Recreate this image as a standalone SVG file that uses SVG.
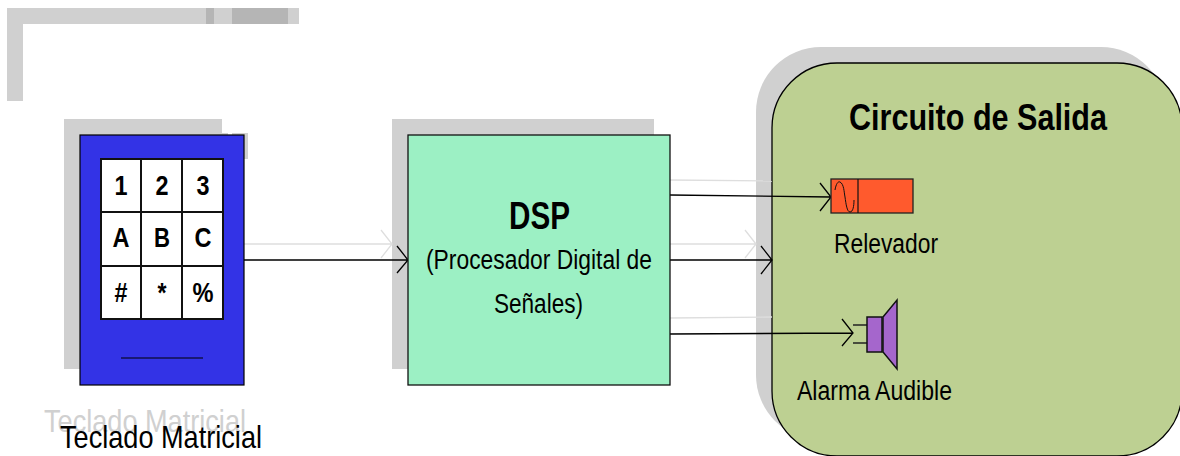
<svg xmlns="http://www.w3.org/2000/svg" width="1180" height="456" viewBox="0 0 1180 456">
<style>
text{font-family:"Liberation Sans",Arial,sans-serif;fill:#000}
.b{font-weight:bold}
.k{font-weight:bold;font-size:28px;text-anchor:middle}
.r{font-size:27px}
.t{font-size:32px}
.s{fill:#d0d0d0}
.e{fill:none;stroke:#000;stroke-width:1.3}
.g{fill:none;stroke:#dedede;stroke-width:1.3}
.o{stroke:#111;stroke-width:1.5}
</style>
<g id="backdrop">
<path class="s" d="M7 8H299V24H23V101H7Z"/>
<rect x="206" y="8" width="8" height="16" fill="#b5b5b5"/>
<rect x="232" y="8" width="56" height="16" fill="#b5b5b5"/>
<rect class="s" x="64" y="119" width="158" height="250"/>
<rect class="s" x="222" y="133" width="6" height="2"/>
<rect class="s" x="232" y="133" width="16" height="26"/>
<rect class="s" x="392" y="119" width="262" height="250"/>
<rect class="s" x="756" y="47" width="410" height="393" rx="65"/>
</g>
<g id="teclado-ghost-label"><text class="t" x="44" y="432" textLength="202" lengthAdjust="spacingAndGlyphs" style="fill:#d0d0d0">Teclado Matricial</text></g>
<g id="circuito">
<rect x="772" y="63" width="410" height="393" rx="65" fill="#bdd092" stroke="#000" stroke-width="1.3"/>
<text class="b" x="849" y="130" font-size="37" textLength="258" lengthAdjust="spacingAndGlyphs">Circuito de Salida</text>
</g>
<g id="connectors">
<path class="g" d="M244 244H392M381 230L392 244L381 258"/>
<path class="g" d="M670 180L772 181"/>
<path class="g" d="M670 244H756M745 230L756 244L745 258"/>
<path class="g" d="M670 318L772 317"/>
<path class="e" d="M244 260H408M397 246L408 260L397 273"/>
<path class="e" d="M670 195L831 197M820 183L831 197L820 211"/>
<path class="e" d="M670 260H772M761 246L772 260L761 274"/>
<path class="e" d="M670 334L853 333M842 319L853 333L842 346"/>
</g>
<g id="teclado">
<rect x="80" y="135" width="164" height="250" fill="#3333e6" stroke="#000" stroke-width="1.2"/>
<rect x="101" y="159" width="122" height="160" fill="#fff" stroke="#111" stroke-width="2"/>
<path d="M141 159V319M182 159V319M101 212H223M101 266H223" stroke="#111" stroke-width="2" fill="none"/>
<path d="M121 358H203" stroke="#000" stroke-width="1.2"/>
<text class="k" x="121" y="195" textLength="13" lengthAdjust="spacingAndGlyphs">1</text>
<text class="k" x="162" y="195" textLength="13" lengthAdjust="spacingAndGlyphs">2</text>
<text class="k" x="203" y="195" textLength="13" lengthAdjust="spacingAndGlyphs">3</text>
<text class="k" x="121" y="247" textLength="17" lengthAdjust="spacingAndGlyphs">A</text>
<text class="k" x="162" y="247" textLength="16" lengthAdjust="spacingAndGlyphs">B</text>
<text class="k" x="203" y="247" textLength="17" lengthAdjust="spacingAndGlyphs">C</text>
<text class="k" x="121" y="302" textLength="13" lengthAdjust="spacingAndGlyphs">#</text>
<text class="k" x="162" y="302" textLength="9" lengthAdjust="spacingAndGlyphs">*</text>
<text class="k" x="203" y="302" textLength="21" lengthAdjust="spacingAndGlyphs">%</text>
<text class="t" x="60" y="448" textLength="202" lengthAdjust="spacingAndGlyphs">Teclado Matricial</text>
</g>
<g id="dsp">
<rect x="408" y="135" width="262" height="250" fill="#9cf0c4" stroke="#111" stroke-width="1.3"/>
<text class="b" x="509" y="229" font-size="38" textLength="61" lengthAdjust="spacingAndGlyphs">DSP</text>
<text class="r" x="426" y="269" textLength="226" lengthAdjust="spacingAndGlyphs">(Procesador Digital de</text>
<text class="r" x="494" y="313" textLength="89" lengthAdjust="spacingAndGlyphs">Señales)</text>
</g>
<g id="relevador">
<rect x="831" y="179" width="82" height="34" fill="#ff5a2d" stroke="#222" stroke-width="1.3"/>
<path d="M858 179V213" stroke="#111" stroke-width="1.2"/>
<path d="M835 190C836 184 838 181 840 182C844 184 844 192 845 197C846 204 847 212 850 212C853 212 854 206 854 200" fill="none" stroke="#111" stroke-width="1"/>
<text class="r" x="834" y="253" textLength="104" lengthAdjust="spacingAndGlyphs">Relevador</text>
</g>
<g id="alarma">
<path class="e" d="M853 325H867M853 343H867" style="stroke:#222"/>
<rect x="867" y="317" width="15" height="35" fill="#a566cc" class="o"/>
<path d="M883 317L897 300V369L883 352Z" fill="#a566cc" class="o"/>
<text class="r" x="797" y="400" textLength="155" lengthAdjust="spacingAndGlyphs">Alarma Audible</text>
</g>
</svg>
